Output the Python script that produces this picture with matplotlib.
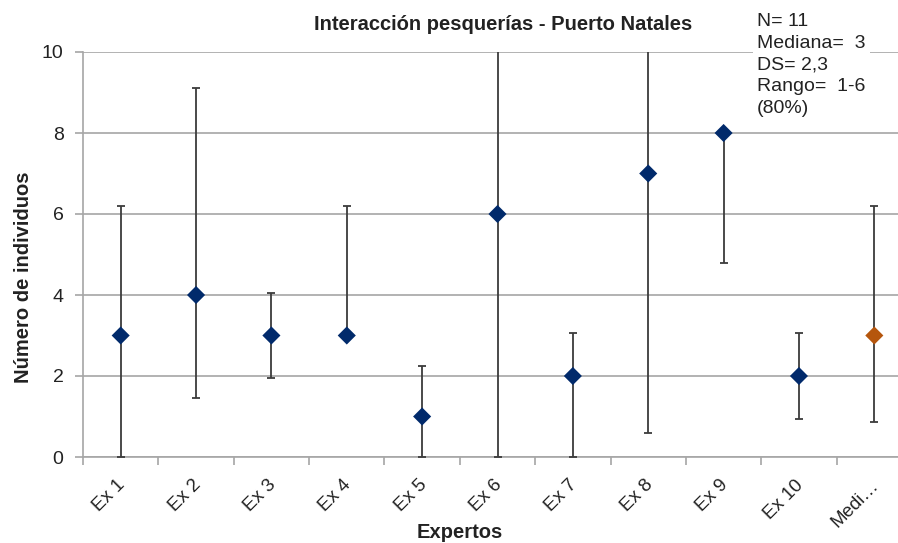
import matplotlib
matplotlib.use("Agg")
import matplotlib.pyplot as plt
import matplotlib.transforms as mtransforms
import numpy as np

plt.rcParams['font.family'] = ['Liberation Sans', 'DejaVu Sans']

categories = ["Ex 1", "Ex 2", "Ex 3", "Ex 4", "Ex 5", "Ex 6", "Ex 7", "Ex 8", "Ex 9", "Ex 10", "Medi…"]
values = [3, 4, 3, 3, 1, 6, 2, 7, 8, 2, 3]
lower = [0, 1.45, 1.95, 3, 0, 0, 0, 0.6, 4.8, 0.93, 0.87]
upper = [6.2, 9.1, 4.05, 6.2, 2.25, 10.6, 3.05, 10.6, 8, 3.05, 6.2]
y_ticks = [0, 2, 4, 6, 8, 10]
stats_text = "N= 11\nMediana=  3\nDS= 2,3\nRango=  1-6\n(80%)"

navy = "#012a6b"
orange = "#b5560d"
grid_c = "#a6a6a6"
text_c = "#222222"

fig = plt.figure(figsize=(8.98, 5.43), dpi=100)
ax_w = (912 - 83) / 898
ax_h = (457 - 52) / 543
ax = fig.add_axes([83 / 898, 86 / 543, ax_w, ax_h])

x = np.arange(len(categories))
vals = np.array(values, dtype=float)
err = [vals - np.array(lower), np.array(upper) - vals]

ax.errorbar(x, vals, yerr=err, fmt='none', ecolor="#3c3c3c", elinewidth=1.3,
            capsize=3, capthick=1.3, zorder=3)
colors = [navy] * (len(categories) - 1) + [orange]
ax.scatter(x, vals, marker='D', s=85, c=colors, edgecolors='none', zorder=4)

ax.set_xlim(-0.5, len(categories) - 0.5)
ax.set_ylim(0, 10)
ax.set_yticks(y_ticks)
ax.set_yticklabels([str(v) for v in y_ticks], fontsize=14, color=text_c)
ax.yaxis.grid(True, color=grid_c, linewidth=1.2)
ax.set_axisbelow(True)

ax.set_xticks(x)
ax.set_xticklabels(categories, rotation=45, ha='right', rotation_mode='anchor',
                   fontsize=13.5, color=text_c)
ax.tick_params(axis='x', length=0, pad=12)
shift = mtransforms.ScaledTranslation(-4 / 100, -3 / 100, fig.dpi_scale_trans)
for lbl in ax.get_xticklabels():
    lbl.set_transform(lbl.get_transform() + shift)
ax.set_xticks(np.arange(len(categories) + 1) - 0.5, minor=True)
ax.tick_params(axis='x', which='minor', length=6, color=grid_c, width=1.2)
ax.tick_params(axis='y', length=6, color=grid_c, width=1.2, pad=8)

for side in ['top', 'right']:
    ax.spines[side].set_visible(False)
for side in ['left', 'bottom']:
    ax.spines[side].set_color(grid_c)
    ax.spines[side].set_linewidth(1.2)

ax.set_ylabel("Número de individuos", fontsize=14.5, fontweight='bold', color=text_c)
ax.yaxis.set_label_coords(-(83 - 24) / 829, (457 - 277) / 405)
ax.set_xlabel("Expertos", fontsize=14.5, fontweight='bold', color=text_c)
ax.xaxis.set_label_coords((460 - 83) / 829, -(533 - 457) / 405)
ax.xaxis.label.set_va('center')
ax.yaxis.label.set_va('center')

fig.text(503 / 898, 1 - 25 / 543, "Interacción pesquerías - Puerto Natales",
         ha='center', va='center', fontsize=14.5, fontweight='bold', color=text_c)

fig.text(757 / 898, 1 - 13 / 543, stats_text, ha='left', va='top', fontsize=14,
         color=text_c, linespacing=1.36,
         bbox=dict(facecolor='white', edgecolor='none', pad=3), zorder=10)

fig.savefig("out.png", dpi=100)
